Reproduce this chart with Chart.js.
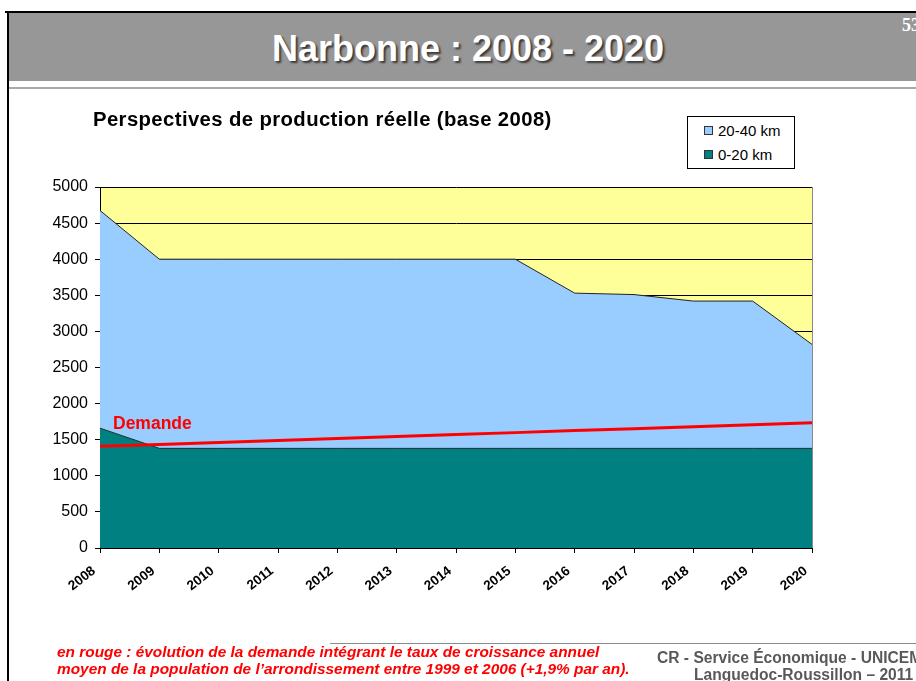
<!DOCTYPE html>
<html lang="fr">
<head>
<meta charset="utf-8">
<title>Narbonne : 2008 - 2020</title>
<script src="https://cdn.jsdelivr.net/npm/chart.js@4.4.1/dist/chart.umd.min.js"></script>
<style>
  html, body { margin: 0; padding: 0; background: #fff; }
  body { width: 916px; height: 681px; position: relative; overflow: hidden; font-family: Arial, "Liberation Sans", sans-serif; }
  #chart { position: absolute; left: 0; top: 0; }
  .abs { position: absolute; white-space: nowrap; }
  #frameTop { left: 5px; top: 11px; width: 911px; height: 2px; background: #000; }
  #frameLeft { left: 7px; top: 11px; width: 2px; height: 670px; background: #000; }
  #band { left: 9px; top: 13px; width: 907px; height: 68px; background: #979797; }
  #bandRule { left: 9px; top: 87px; width: 907px; height: 2px; background: #a9a9a9; }
  #slideTitle { left: 9px; top: 28px; width: 918px; text-align: center; color: #fff;
    font-family: Arial, "Liberation Sans", sans-serif; font-weight: bold; font-size: 36px;
    text-shadow: 2px 2px 2px #3a3a3a; }
  #pageNo { left: 902px; top: 15px; color: #fff; font-family: "Liberation Serif", "Times New Roman", serif; font-weight: bold; font-size: 18px; }
  #chartTitle { left: 93px; top: 108px; font-weight: bold; font-size: 20.3px; letter-spacing: 0.4px; color: #000; }
  #legend { left: 687px; top: 116px; width: 106px; height: 51px; border: 1px solid #000; background: #fff; }
  .item { position: absolute; left: 16px; font-size: 15px; color: #000; }
  .sw { display: inline-block; width: 7px; height: 7px; border: 1px solid #333; margin-right: 5px; vertical-align: 1px; }
  #demande { left: 113px; top: 413px; color: #ff0000; font-weight: bold; font-size: 17.5px; }
  #footRule { left: 330px; top: 643px; width: 586px; height: 1px; background: #8c8c8c; }
  #note { left: 57px; top: 643px; color: #ff0000; font-family: Arial, "Liberation Sans", sans-serif;
    font-weight: bold; font-style: italic; font-size: 15.4px; line-height: 17px; }
  #source { left: 657px; top: 649px; color: #595959; font-family: Arial, "Liberation Sans", sans-serif;
    font-weight: bold; font-size: 15.6px; line-height: 17px; }
</style>
</head>
<body>
<canvas id="chart" width="916" height="681"></canvas>

<div class="abs" id="frameTop"></div>
<div class="abs" id="frameLeft"></div>
<div class="abs" id="band"></div>
<div class="abs" id="bandRule"></div>
<div class="abs" id="slideTitle">Narbonne : 2008 - 2020</div>
<div class="abs" id="pageNo">53</div>

<div class="abs" id="chartTitle">Perspectives de production réelle (base 2008)</div>
<div class="abs" id="legend">
  <div class="item" style="top:5px"><span class="sw" style="background:#99ccff"></span>20-40 km</div>
  <div class="item" style="top:29px"><span class="sw" style="background:#008080"></span>0-20 km</div>
</div>
<div class="abs" id="demande">Demande</div>

<div class="abs" id="footRule"></div>
<div class="abs" id="note">en rouge : évolution de la demande intégrant le taux de croissance annuel<br>moyen de la population de l’arrondissement entre 1999 et 2006 (+1,9% par an).</div>
<div class="abs" id="source">CR - Service Économique - UNICEM<br><span style="padding-left:37px">Languedoc-Roussillon – 2011</span></div>

<script>
// Years on the category axis
const years = ['2008', '2009', '2010', '2011', '2012', '2013', '2014', '2015', '2016', '2017', '2018', '2019', '2020'];

// Production by distance band (stacked, thousand tonnes)
const prod0to20 = [1660, 1380, 1380, 1380, 1380, 1380, 1380, 1380, 1380, 1380, 1380, 1380, 1380];
const prod20to40 = [3015, 2620, 2620, 2620, 2620, 2620, 2620, 2620, 2150, 2130, 2040, 2040, 1440];

// Demand with population growth
const demande = [1408, 1435, 1462, 1489, 1516, 1544, 1571, 1598, 1626, 1653, 1680, 1708, 1735];

// Value axis range
const yMin = 0;
const yMax = 5000;
const yStep = 500;

// Paints the plot background and its right edge
const plotFrame = {
  id: 'plotFrame',
  beforeDraw(chart) {
    const { ctx, chartArea: a } = chart;
    ctx.save();
    ctx.fillStyle = '#ffff99';
    ctx.fillRect(a.left, a.top, a.right - a.left, a.bottom - a.top);
    ctx.restore();
  },
  afterDatasetsDraw(chart) {
    const { ctx, chartArea: a } = chart;
    ctx.save();
    ctx.strokeStyle = '#8a8a8a';
    ctx.lineWidth = 1;
    ctx.beginPath();
    ctx.moveTo(Math.round(a.right) + 0.5, a.top);
    ctx.lineTo(Math.round(a.right) + 0.5, a.bottom);
    ctx.stroke();
    ctx.restore();
  }
};

new Chart(document.getElementById('chart'), {
  type: 'line',
  data: {
    labels: years,
    datasets: [
      {
        label: '0-20 km',
        data: prod0to20,
        stack: 'prod',
        fill: 'origin',
        backgroundColor: '#008080',
        borderColor: '#1e3030',
        borderWidth: 1,
        pointRadius: 0,
        tension: 0,
        order: 1
      },
      {
        label: '20-40 km',
        data: prod20to40,
        stack: 'prod',
        fill: '-1',
        backgroundColor: '#99ccff',
        borderColor: '#222222',
        borderWidth: 1,
        pointRadius: 0,
        tension: 0,
        order: 1
      },
      {
        label: 'Demande',
        data: demande,
        stack: 'demande',
        fill: false,
        borderColor: '#ff0000',
        borderWidth: 3,
        pointRadius: 0,
        tension: 0,
        order: 0
      }
    ]
  },
  options: {
    responsive: false,
    animation: false,
    devicePixelRatio: 1,
    layout: { padding: { left: 40, top: 187, right: 104, bottom: 0 } },
    plugins: {
      legend: { display: false },
      title: { display: false },
      tooltip: { enabled: false }
    },
    scales: {
      x: {
        offset: false,
        grid: { drawOnChartArea: false, drawTicks: true, tickLength: 5, color: '#000' },
        border: { color: '#000', width: 1 },
        ticks: {
          color: '#000',
          font: { family: 'Arial, "Liberation Sans", sans-serif', size: 13.5, weight: 'bold' },
          minRotation: 38,
          maxRotation: 38,
          autoSkip: false,
          padding: 10,
          labelOffset: -6
        },
        afterFit(scale) { scale.height = 133; }
      },
      y: {
        stacked: true,
        min: yMin,
        max: yMax,
        grid: { color: '#000', lineWidth: 1, tickLength: 5 },
        border: { color: '#000', width: 1 },
        ticks: {
          stepSize: yStep,
          color: '#000',
          padding: 7,
          font: { family: 'Arial, "Liberation Sans", sans-serif', size: 16 },
          callback: (v) => String(v)
        },
        afterFit(scale) { scale.width = 60; }
      }
    }
  },
  plugins: [plotFrame]
});
</script>
</body>
</html>
